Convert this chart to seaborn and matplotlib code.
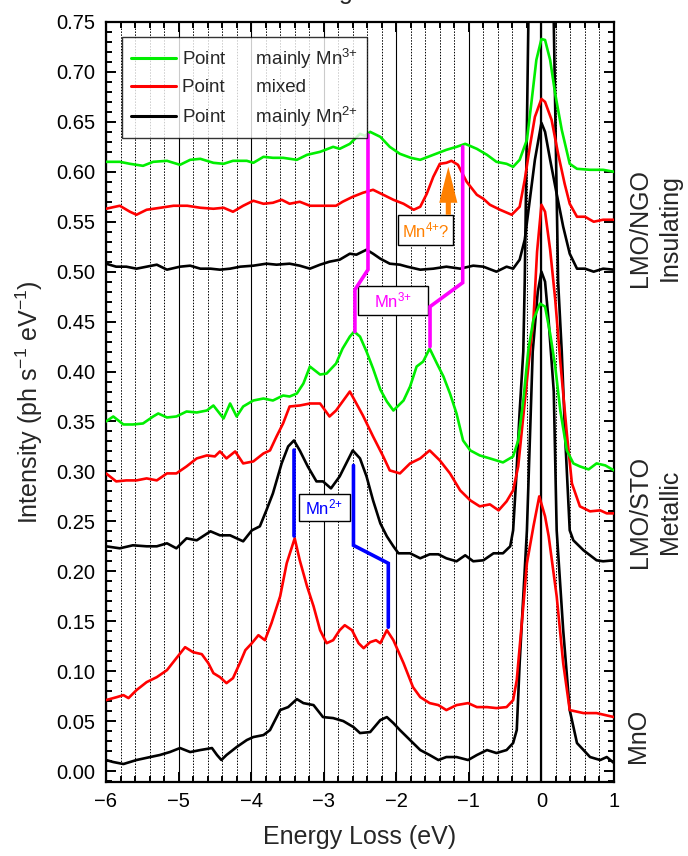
import numpy as np
import matplotlib
matplotlib.use("Agg")
import matplotlib.pyplot as plt
from matplotlib.lines import Line2D
from matplotlib.patches import Rectangle
from matplotlib.ticker import MultipleLocator, FormatStrFormatter
import seaborn as sns

# ---- data (energy loss eV, intensity) ----
# LMO/NGO (insulating)
green_ngo = [(-6.0,0.610),(-5.81,0.610),(-5.67,0.608),(-5.49,0.606),(-5.35,0.610),(-5.16,0.611),(-4.98,0.607),
             (-4.84,0.612),(-4.70,0.613),(-4.52,0.609),(-4.38,0.608),(-4.25,0.611),(-4.06,0.611),(-3.97,0.609),
             (-3.83,0.615),(-3.70,0.614),(-3.56,0.614),(-3.37,0.612),(-3.23,0.617),(-3.05,0.620),(-2.87,0.625),
             (-2.78,0.623),(-2.64,0.628),(-2.50,0.638),(-2.43,0.636),(-2.36,0.640),(-2.22,0.635),(-2.09,0.625),
             (-1.95,0.618),(-1.80,0.614),(-1.67,0.612),(-1.49,0.617),(-1.31,0.622),(-1.17,0.625),(-1.05,0.628),
             (-0.89,0.623),(-0.75,0.617),(-0.62,0.610),(-0.48,0.608),(-0.39,0.605),(-0.30,0.612),(-0.20,0.632),
             (-0.14,0.668),(-0.07,0.712),(0.0,0.733),(0.05,0.732),(0.12,0.712),(0.19,0.678),(0.28,0.642),
             (0.39,0.608),(0.49,0.603),(0.67,0.602),(0.85,0.602),(1.0,0.600)]
red_ngo = [(-6.0,0.563),(-5.81,0.566),(-5.67,0.560),(-5.58,0.557),(-5.44,0.562),(-5.25,0.564),(-5.07,0.566),
           (-4.88,0.566),(-4.70,0.564),(-4.52,0.563),(-4.38,0.564),(-4.25,0.560),(-4.11,0.566),(-3.97,0.571),
           (-3.83,0.568),(-3.70,0.569),(-3.58,0.572),(-3.47,0.568),(-3.33,0.570),(-3.19,0.566),(-3.01,0.566),
           (-2.83,0.566),(-2.74,0.570),(-2.60,0.575),(-2.46,0.579),(-2.32,0.582),(-2.18,0.577),(-2.04,0.572),
           (-1.90,0.568),(-1.76,0.562),(-1.67,0.565),(-1.58,0.578),(-1.49,0.595),(-1.40,0.608),(-1.31,0.609),
           (-1.24,0.611),(-1.15,0.607),(-1.03,0.590),(-0.89,0.577),(-0.80,0.573),(-0.71,0.567),(-0.57,0.562),
           (-0.41,0.557),(-0.30,0.565),(-0.23,0.592),(-0.16,0.625),(-0.09,0.655),(0.0,0.673),(0.05,0.670),
           (0.14,0.652),(0.23,0.618),(0.32,0.588),(0.39,0.568),(0.49,0.555),(0.60,0.555),(0.72,0.550),
           (0.85,0.552),(1.0,0.552)]
black_ngo = [(-6.0,0.508),(-5.86,0.505),(-5.72,0.505),(-5.58,0.503),(-5.44,0.505),(-5.30,0.507),(-5.16,0.502),
             (-4.98,0.505),(-4.84,0.506),(-4.70,0.503),(-4.56,0.503),(-4.43,0.502),(-4.29,0.503),(-4.15,0.505),
             (-3.97,0.506),(-3.79,0.508),(-3.65,0.507),(-3.47,0.508),(-3.33,0.506),(-3.19,0.503),(-3.05,0.507),
             (-2.92,0.510),(-2.78,0.512),(-2.64,0.518),(-2.55,0.517),(-2.41,0.522),(-2.32,0.518),(-2.22,0.513),
             (-2.09,0.508),(-1.95,0.507),(-1.85,0.505),(-1.67,0.502),(-1.49,0.503),(-1.31,0.505),(-1.12,0.503),
             (-0.94,0.506),(-0.80,0.505),(-0.62,0.500),(-0.48,0.505),(-0.39,0.503),(-0.30,0.512),(-0.23,0.532),
             (-0.16,0.572),(-0.09,0.612),(0.0,0.649),(0.05,0.640),(0.12,0.612),(0.21,0.578),(0.30,0.545),
             (0.39,0.518),(0.49,0.503),(0.60,0.503),(0.72,0.500),(0.85,0.503),(1.0,0.502)]

# LMO/STO (metallic)
green_sto = [(-6.0,0.350),(-5.90,0.355),(-5.76,0.347),(-5.63,0.347),(-5.49,0.348),(-5.35,0.355),(-5.28,0.358),
             (-5.16,0.354),(-5.03,0.355),(-4.89,0.360),(-4.75,0.359),(-4.61,0.361),(-4.52,0.366),(-4.38,0.353),
             (-4.29,0.368),(-4.20,0.355),(-4.11,0.365),(-3.97,0.371),(-3.83,0.373),(-3.70,0.371),(-3.56,0.376),
             (-3.47,0.375),(-3.37,0.378),(-3.28,0.388),(-3.19,0.405),(-3.05,0.397),(-2.96,0.398),(-2.83,0.408),
             (-2.74,0.423),(-2.64,0.435),(-2.58,0.440),(-2.50,0.435),(-2.41,0.420),(-2.32,0.403),(-2.22,0.382),
             (-2.13,0.370),(-2.04,0.361),(-1.90,0.371),(-1.81,0.385),(-1.72,0.405),(-1.63,0.410),(-1.54,0.423),
             (-1.44,0.408),(-1.35,0.395),(-1.26,0.378),(-1.17,0.358),(-1.08,0.331),(-0.98,0.321),(-0.85,0.316),
             (-0.71,0.313),(-0.53,0.309),(-0.39,0.315),(-0.32,0.331),(-0.25,0.371),(-0.18,0.422),(-0.11,0.452),
             (-0.02,0.468),(0.05,0.465),(0.12,0.438),(0.19,0.405),(0.26,0.361),(0.35,0.321),(0.44,0.308),
             (0.53,0.305),(0.65,0.302),(0.76,0.308),(0.88,0.306),(1.0,0.301)]
red_sto = [(-6.0,0.298),(-5.86,0.290),(-5.72,0.291),(-5.58,0.291),(-5.44,0.293),(-5.30,0.291),(-5.16,0.298),
           (-5.03,0.298),(-4.89,0.305),(-4.75,0.313),(-4.61,0.316),(-4.50,0.315),(-4.43,0.320),(-4.34,0.313),
           (-4.22,0.320),(-4.11,0.308),(-3.97,0.310),(-3.83,0.318),(-3.74,0.321),(-3.65,0.335),(-3.56,0.348),
           (-3.47,0.365),(-3.33,0.366),(-3.19,0.368),(-3.05,0.368),(-2.92,0.355),(-2.83,0.361),(-2.74,0.370),
           (-2.64,0.380),(-2.55,0.368),(-2.46,0.356),(-2.32,0.335),(-2.18,0.315),(-2.09,0.301),(-1.95,0.298),
           (-1.81,0.308),(-1.67,0.313),(-1.54,0.321),(-1.40,0.311),(-1.26,0.298),(-1.12,0.281),(-0.98,0.271),
           (-0.85,0.265),(-0.71,0.267),(-0.59,0.261),(-0.48,0.270),(-0.39,0.281),(-0.32,0.305),(-0.25,0.355),
           (-0.18,0.405),(-0.11,0.452),(-0.06,0.520),(0.0,0.567),(0.05,0.560),(0.12,0.522),(0.19,0.472),
           (0.26,0.410),(0.35,0.338),(0.42,0.288),(0.53,0.265),(0.67,0.260),(0.81,0.261),(0.90,0.258),(1.0,0.258)]
black_sto = [(-6.0,0.225),(-5.81,0.223),(-5.63,0.226),(-5.44,0.225),(-5.30,0.225),(-5.16,0.228),(-5.03,0.223),
             (-4.89,0.233),(-4.75,0.231),(-4.56,0.240),(-4.43,0.236),(-4.29,0.236),(-4.20,0.233),(-4.11,0.230),
             (-3.99,0.241),(-3.88,0.245),(-3.79,0.261),(-3.70,0.278),(-3.58,0.308),(-3.49,0.325),(-3.41,0.331),
             (-3.33,0.321),(-3.22,0.305),(-3.10,0.290),(-3.01,0.290),(-2.90,0.283),(-2.78,0.295),(-2.69,0.308),
             (-2.60,0.321),(-2.50,0.313),(-2.41,0.295),(-2.32,0.271),(-2.22,0.248),(-2.13,0.235),(-2.04,0.225),
             (-1.97,0.218),(-1.81,0.218),(-1.67,0.213),(-1.54,0.217),(-1.42,0.217),(-1.31,0.213),(-1.17,0.210),
             (-1.05,0.216),(-0.94,0.210),(-0.80,0.211),(-0.66,0.218),(-0.53,0.218),(-0.43,0.225),(-0.39,0.241),
             (-0.35,0.290),(-0.30,0.360),(-0.25,0.420),(-0.23,0.490),(-0.18,0.750),(-0.12,1.000),(-0.05,1.150),
             (0.0,1.200),(0.05,1.150),(0.12,1.000),(0.17,0.750),(0.23,0.490),(0.28,0.420),(0.33,0.330),
             (0.39,0.241),(0.44,0.231),(0.58,0.221),(0.76,0.211),(0.85,0.210),(1.0,0.211)]

# MnO
red_mno = [(-6.0,0.071),(-5.85,0.074),(-5.76,0.076),(-5.69,0.073),(-5.58,0.081),(-5.44,0.089),(-5.30,0.094),
           (-5.16,0.101),(-5.03,0.113),(-4.91,0.124),(-4.80,0.119),(-4.68,0.117),(-4.59,0.108),(-4.52,0.098),
           (-4.43,0.094),(-4.34,0.088),(-4.25,0.093),(-4.15,0.109),(-4.08,0.121),(-3.99,0.128),(-3.90,0.136),
           (-3.81,0.131),(-3.72,0.148),(-3.60,0.175),(-3.51,0.208),(-3.40,0.233),(-3.33,0.211),(-3.23,0.185),
           (-3.14,0.165),(-3.05,0.141),(-2.96,0.128),(-2.87,0.131),(-2.78,0.141),(-2.71,0.146),(-2.61,0.141),
           (-2.52,0.128),(-2.45,0.123),(-2.36,0.129),(-2.28,0.131),(-2.22,0.128),(-2.13,0.141),(-2.04,0.131),
           (-1.90,0.108),(-1.77,0.084),(-1.67,0.074),(-1.54,0.068),(-1.42,0.066),(-1.31,0.061),(-1.17,0.066),
           (-1.01,0.068),(-0.89,0.064),(-0.75,0.064),(-0.62,0.063),(-0.48,0.064),(-0.39,0.071),(-0.34,0.091),
           (-0.30,0.124),(-0.25,0.165),(-0.20,0.208),(-0.11,0.245),(-0.03,0.275),(0.05,0.255),(0.10,0.235),
           (0.21,0.175),(0.30,0.108),(0.39,0.061),(0.58,0.058),(0.76,0.058),(1.0,0.054)]
black_mno = [(-6.0,0.011),(-5.90,0.009),(-5.76,0.007),(-5.58,0.011),(-5.39,0.014),(-5.26,0.016),(-5.12,0.019),
             (-4.98,0.023),(-4.84,0.019),(-4.70,0.021),(-4.54,0.023),(-4.47,0.016),(-4.41,0.011),(-4.34,0.016),
             (-4.20,0.024),(-4.06,0.031),(-3.97,0.034),(-3.83,0.036),(-3.74,0.041),(-3.60,0.061),(-3.49,0.064),
             (-3.37,0.072),(-3.28,0.068),(-3.14,0.066),(-3.01,0.054),(-2.87,0.053),(-2.73,0.050),(-2.59,0.044),
             (-2.50,0.038),(-2.36,0.039),(-2.22,0.051),(-2.13,0.054),(-2.04,0.048),(-1.95,0.041),(-1.81,0.031),
             (-1.67,0.021),(-1.54,0.016),(-1.42,0.011),(-1.31,0.014),(-1.17,0.014),(-1.01,0.011),(-0.89,0.016),
             (-0.75,0.021),(-0.62,0.018),(-0.48,0.021),(-0.39,0.028),(-0.34,0.041),(-0.30,0.108),(-0.25,0.175),
             (-0.20,0.241),(-0.12,0.420),(-0.05,0.480),(0.0,0.500),(0.05,0.490),(0.10,0.450),(0.17,0.380),
             (0.21,0.241),(0.30,0.141),(0.39,0.061),(0.49,0.028),(0.67,0.014),(0.81,0.011),(0.90,0.014),(1.0,0.008)]

# peak markers
mn3_left = [(-2.39,0.637),(-2.39,0.502),(-2.57,0.482),(-2.57,0.440)]
mn3_right = [(-1.085,0.625),(-1.085,0.489),(-1.535,0.465),(-1.535,0.425)]
mn2_left = [(-3.405,0.321),(-3.405,0.235)]
mn2_right = [(-2.59,0.306),(-2.59,0.226),(-2.11,0.208),(-2.11,0.144)]

legend_labels = ["Point      mainly Mn$^{3{+}}$", "Point      mixed", "Point      mainly Mn$^{2{+}}$"]

GREEN, RED, BLACK = "#00ee00", "#ff0000", "#000000"
MAGENTA, BLUE, ORANGE = "#ff00ff", "#0000ff", "#ff8000"

sns.set_style("ticks")
plt.rcParams["font.family"] = ["Liberation Sans", "DejaVu Sans"]
plt.rcParams["mathtext.fontset"] = "custom"
plt.rcParams["mathtext.rm"] = "Liberation Sans"
plt.rcParams["mathtext.it"] = "Liberation Sans:italic"
plt.rcParams["mathtext.default"] = "regular"

fig = plt.figure(figsize=(6.88, 8.56), dpi=100)
ax = fig.add_axes([106/688, 1-782/856, 508/688, 760/856])

ax.set_xlim(-6, 1)
ax.set_ylim(-0.011, 0.75)

# grid first (underneath)
ax.xaxis.set_major_locator(MultipleLocator(1))
ax.xaxis.set_minor_locator(MultipleLocator(0.2))
ax.yaxis.set_major_locator(MultipleLocator(0.05))
ax.yaxis.set_minor_locator(MultipleLocator(0.01))
ax.yaxis.set_major_formatter(FormatStrFormatter("%.2f"))
ax.grid(True, axis="x", which="major", color="black", lw=0.8, ls="-", zorder=0)
ax.grid(True, axis="x", which="minor", color="black", lw=0.7, ls=(0, (1.5, 1.5)), zorder=0)
ax.set_axisbelow(True)
ax.axvline(0, color="black", lw=1.6, zorder=1)

curves = [(black_mno, BLACK), (red_mno, RED), (black_sto, BLACK), (red_sto, RED), (green_sto, GREEN),
          (black_ngo, BLACK), (red_ngo, RED), (green_ngo, GREEN)]
for pts, col in curves:
    xs, ys = np.array(pts).T
    sns.lineplot(x=xs, y=ys, ax=ax, color=col, lw=1.9, sort=False, estimator=None, legend=False, zorder=3)

# boxes with labels
def label_box(x0, y0, x1, y1, txt, col):
    ax.add_patch(Rectangle((x0, y0), x1 - x0, y1 - y0, fc="white", ec="black", lw=1.0, zorder=4))
    ax.text((x0 + x1) / 2, (y0 + y1) / 2, txt, color=col, fontsize=12, ha="center", va="center", zorder=5)

label_box(-2.528, 0.4566, -1.563, 0.4857, "Mn$^{3{+}}$", MAGENTA)
label_box(-3.341, 0.2504, -2.638, 0.2770, "Mn$^{2{+}}$", BLUE)
label_box(-1.972, 0.5267, -1.214, 0.5567, "Mn$^{4{+}}$?", ORANGE)

for pts, col in [(mn3_left, MAGENTA), (mn3_right, MAGENTA), (mn2_left, BLUE), (mn2_right, BLUE)]:
    xs, ys = np.array(pts).T
    ax.plot(xs, ys, color=col, lw=2.6, solid_joinstyle="miter", zorder=6)

ax.arrow(-1.283, 0.557, 0, 0.048, width=0.07, head_width=0.25, head_length=0.036,
         length_includes_head=True, color=ORANGE, lw=0, zorder=6)

# axes styling
for s in ax.spines.values():
    s.set_linewidth(1.6)
    s.set_color("black")
ax.tick_params(which="both", direction="in", top=True, right=True, width=1.4, colors="black",
               labelsize=14.5)
ax.tick_params(which="major", length=7)
ax.tick_params(which="minor", length=4)
ax.tick_params(axis="y", pad=8)
ax.tick_params(axis="x", pad=7)

ax.set_xlabel("Energy Loss (eV)", fontsize=18, labelpad=10)
ax.set_ylabel("Intensity (ph s$^{-1}$ eV$^{-1}$)", fontsize=18, labelpad=8)

handles = [Line2D([], [], color=c, lw=2.2) for c in (GREEN, RED, BLACK)]
leg = ax.legend(handles, legend_labels, loc="upper left", bbox_to_anchor=(0.0315, 0.980),
                borderaxespad=0, fontsize=13.5, frameon=True, fancybox=False, handlelength=2.4,
                handletextpad=0.3, labelspacing=0.45, borderpad=0.5)
leg.get_frame().set_edgecolor("black")
leg.get_frame().set_linewidth(1.0)
leg.set_zorder(7)

# side labels
ax.text(1.081, 0.729, "LMO/NGO\nInsulating", transform=ax.transAxes, rotation=90, fontsize=18,
        ha="center", va="center", multialignment="center", linespacing=1.3)
ax.text(1.081, 0.355, "LMO/STO\nMetallic", transform=ax.transAxes, rotation=90, fontsize=18,
        ha="center", va="center", multialignment="center", linespacing=1.3)
ax.text(1.047, 0.0605, "MnO", transform=ax.transAxes, rotation=90, fontsize=18,
        ha="center", va="center")

# cut-off title remnant at the very top
fig.text(346/688, 1 + 1/856, "g", fontsize=18, ha="center", va="baseline")

fig.savefig("out.png", dpi=100)
